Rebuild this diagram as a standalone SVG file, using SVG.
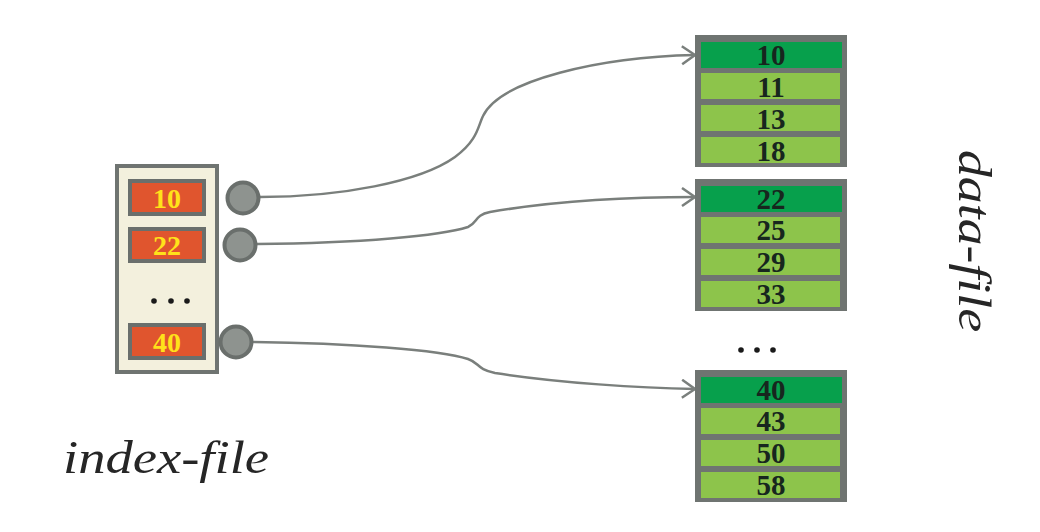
<svg xmlns="http://www.w3.org/2000/svg" width="1040" height="532" viewBox="0 0 1040 532">
<defs>
<style>
.frame{fill:#6f7471;}
.dk{fill:#07a04c;}
.lt{fill:#8dc44b;}
.dnum{font-family:"Liberation Serif",serif;font-weight:bold;font-size:29px;fill:#17261e;text-anchor:middle;}
.inum{font-family:"Liberation Serif",serif;font-weight:bold;font-size:28px;fill:#ffe21a;text-anchor:middle;}
.cell{fill:#e0552e;stroke:#6a6f6c;stroke-width:4;}
.ptr{fill:#8e938f;stroke:#6a6f6c;stroke-width:4;}
.dot{fill:#1a1a1a;}
.conn{fill:none;stroke:#7a7f7c;stroke-width:2.5;}
.lbl{font-family:"Liberation Serif",serif;font-style:italic;font-size:47px;fill:#262626;}
</style>
<marker id="arr" markerUnits="userSpaceOnUse" markerWidth="20" markerHeight="24" refX="14" refY="10" orient="auto">
<path d="M1,1 L14,10 L1,19" fill="none" stroke="#7a7f7c" stroke-width="2.5"/>
</marker>
</defs>
<rect width="1040" height="532" fill="#ffffff"/>

<g id="connectors">
<path class="conn" marker-end="url(#arr)" d="M260,197 C340,197 420,182 455,157 C478,140 478,126 483,116 C500,80 600,57 695,55"/>
<path class="conn" marker-end="url(#arr)" d="M257,244 C360,243 440,236 468,227 C478,223 474,215 490,212 C560,200 640,197 695,197"/>
<path class="conn" marker-end="url(#arr)" d="M252,342 C350,343 440,350 468,359 C480,363 476,369 495,373 C560,383 640,388 695,389"/>
</g>

<g id="index-file">
<rect x="117" y="166" width="100" height="206" fill="#f3f0dd" stroke="#6f7471" stroke-width="4"/>
<g id="idx-10"><rect class="cell" x="130" y="181" width="74" height="33"/><text class="inum" x="167" y="208">10</text></g>
<g id="idx-22"><rect class="cell" x="130" y="229" width="74" height="32"/><text class="inum" x="167" y="255">22</text></g>
<g id="idx-dots"><circle class="dot" cx="154" cy="301" r="2.8"/><circle class="dot" cx="171" cy="301" r="2.8"/><circle class="dot" cx="187" cy="301" r="2.8"/></g>
<g id="idx-40"><rect class="cell" x="130" y="325" width="74" height="33"/><text class="inum" x="167" y="352">40</text></g>
<circle class="ptr" cx="243" cy="198" r="15.5"/>
<circle class="ptr" cx="240" cy="245" r="15.5"/>
<circle class="ptr" cx="236" cy="342" r="15.5"/>
</g>

<g id="block-1">
<rect class="frame" x="695" y="35" width="152" height="132"/>
<rect class="dk" x="701" y="42" width="141" height="26"/>
<rect class="lt" x="701" y="73" width="139" height="26"/>
<rect class="lt" x="701" y="105" width="139" height="26"/>
<rect class="lt" x="701" y="137" width="139" height="26"/>
<text class="dnum" x="771" y="65">10</text>
<text class="dnum" x="771" y="97">11</text>
<text class="dnum" x="771" y="129">13</text>
<text class="dnum" x="771" y="161">18</text>
</g>

<g id="block-2">
<rect class="frame" x="695" y="179" width="152" height="132"/>
<rect class="dk" x="701" y="186" width="141" height="26"/>
<rect class="lt" x="701" y="217" width="139" height="26"/>
<rect class="lt" x="701" y="249" width="139" height="26"/>
<rect class="lt" x="701" y="281" width="139" height="26"/>
<text class="dnum" x="771" y="209">22</text>
<text class="dnum" x="771" y="240">25</text>
<text class="dnum" x="771" y="272">29</text>
<text class="dnum" x="771" y="304">33</text>
</g>

<g id="data-dots"><circle class="dot" cx="741" cy="350" r="2.8"/><circle class="dot" cx="757" cy="350" r="2.8"/><circle class="dot" cx="773" cy="350" r="2.8"/></g>

<g id="block-3">
<rect class="frame" x="695" y="370" width="152" height="132"/>
<rect class="dk" x="701" y="377" width="141" height="26"/>
<rect class="lt" x="701" y="408" width="139" height="26"/>
<rect class="lt" x="701" y="440" width="139" height="26"/>
<rect class="lt" x="701" y="472" width="139" height="26"/>
<text class="dnum" x="771" y="400">40</text>
<text class="dnum" x="771" y="431">43</text>
<text class="dnum" x="771" y="463">50</text>
<text class="dnum" x="771" y="495">58</text>
</g>

<g id="labels">
<text class="lbl" x="63" y="473" textLength="206" lengthAdjust="spacingAndGlyphs">index-file</text>
<text class="lbl" transform="translate(959,150) rotate(90)" x="0" y="0" textLength="182" lengthAdjust="spacingAndGlyphs">data-file</text>
</g>
</svg>
